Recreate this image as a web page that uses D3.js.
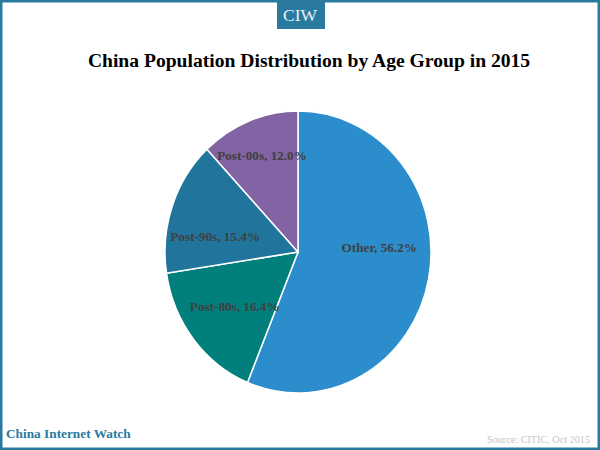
<!DOCTYPE html>
<html>
<head>
<meta charset="utf-8">
<script src="https://cdn.jsdelivr.net/npm/d3@7"></script>
<style>
  html, body { margin: 0; padding: 0; background: #fff; }
  svg { display: block; }
  text { font-family: "Liberation Serif", serif; }
</style>
</head>
<body>
<svg width="600" height="450"></svg>
<script>
const categories = ["Other", "Post-80s", "Post-90s", "Post-00s"];
const shares = [56.2, 16.4, 15.4, 12.0];
const sliceColors = ["#2b8dcb", "#007f7c", "#21749c", "#8263a3"];

const width = 600, height = 450;
const frameColor = "#2a7aa0";
// the original image is stretched, so the pie is a bit taller than wide
const cx = 298, cy = 252, rx = 133, ry = 141;

// nudges from each slice centroid to where the original puts the labels
const labelDx = [16, -11, -20, -11.5];
const labelDy = [-18, 11, 7, -31.5];

const svg = d3.select("svg");

// frame
svg.append("rect").attr("x", 1.25).attr("y", 1.25)
  .attr("width", width - 2.5).attr("height", height - 2.5)
  .attr("fill", "none").attr("stroke", frameColor).attr("stroke-width", 2.5);

// CIW tab
svg.append("rect").attr("x", 277).attr("y", 0)
  .attr("width", 48).attr("height", 29).attr("fill", frameColor);
svg.append("text").attr("x", 300).attr("y", 21)
  .attr("text-anchor", "middle").attr("fill", "#e8f1f5")
  .attr("font-size", 17.5).text("CIW");

svg.append("text").attr("x", 309).attr("y", 67)
  .attr("text-anchor", "middle").attr("fill", "#000")
  .attr("font-size", 19.6).attr("font-weight", "bold")
  .text("China Population Distribution by Age Group in 2015");

const pie = d3.pie().sort(null).value(d => d);
const arc = d3.arc().innerRadius(0).outerRadius(rx);
const slices = pie(shares);

const g = svg.append("g").attr("transform", `translate(${cx},${cy}) scale(1,${ry / rx})`);

g.selectAll("path")
  .data(slices)
  .enter().append("path")
  .attr("d", arc)
  .attr("fill", (d, i) => sliceColors[i])
  .attr("stroke", "#fff")
  .attr("stroke-width", 1.5);

svg.append("g").attr("transform", `translate(${cx},${cy})`)
  .selectAll("text")
  .data(slices)
  .enter().append("text")
  .attr("x", (d, i) => arc.centroid(d)[0] + labelDx[i])
  .attr("y", (d, i) => arc.centroid(d)[1] * ry / rx + labelDy[i])
  .attr("dy", "0.35em")
  .attr("text-anchor", "middle")
  .attr("fill", "#404040")
  .attr("font-size", 13.2)
  .attr("font-weight", "bold")
  .text((d, i) => `${categories[i]}, ${shares[i].toFixed(1)}%`);

svg.append("text").attr("x", 6).attr("y", 438)
  .attr("fill", frameColor).attr("font-size", 13.3).attr("font-weight", "bold")
  .text("China Internet Watch");

svg.append("text").attr("x", 590).attr("y", 443)
  .attr("text-anchor", "end").attr("fill", "#c4c4c4").attr("font-size", 10.2)
  .text("Source: CITIC, Oct 2015");
</script>
</body>
</html>
